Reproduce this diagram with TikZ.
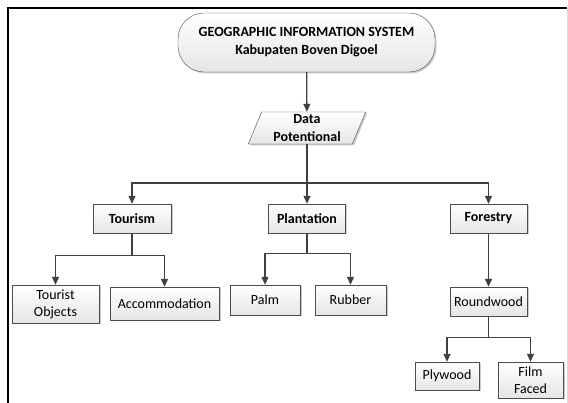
\documentclass[tikz,border=0pt]{standalone}
\usepackage{fontspec}
\setmainfont{Carlito}
\usetikzlibrary{positioning}
\usetikzlibrary{arrows.meta}
\usetikzlibrary{shapes.geometric}
\usetikzlibrary{shadows}
\tikzset{tips=proper}
\tikzset{%
    box/.style={rectangle, draw=black!70, top color=white, bottom color=black!10,
        drop shadow={shadow xshift=1.5pt, shadow yshift=-1.5pt, opacity=0.4},
        align=center, inner sep=1pt, font=\fontsize{14}{17}\selectfont},
    category/.style={box, font=\fontsize{14}{18}\selectfont\bfseries},
    arrow/.style={draw=black!75, line width=1.3pt, -{Triangle[length=8pt, width=7pt]}}
}

\begin{document}
\begin{tikzpicture}[x=1pt, y=-1pt]
            \tikzset{%
                system/.style={category, rounded corners=26pt, minimum width=257pt, minimum height=59pt},
                data/.style={category, trapezium, trapezium left angle=70, trapezium right angle=110,
                    trapezium stretches=true, minimum width=118pt, minimum height=32pt, inner sep=0pt},
            }
            \useasboundingbox (0,0) rectangle (568,403);
            % frame
            \draw[black!15, line width=0.8pt] (567,8) -- (567,403);
            \draw[line width=2.5pt] (8,403) -- (8,8) -- (567,8);

            \node[system] (gis) at (306.5,42.5) {GEOGRAPHIC INFORMATION SYSTEM\\Kabupaten Boven Digoel};
            \node[data] (potential) at (307,128) {Data\\Potentional};

            \node[category, minimum width=78pt, minimum height=29pt] (tourism) at (132,218.5) {Tourism};
            \node[category, minimum width=77pt, minimum height=29pt] (plantation) at (307,218.5) {Plantation};
            \node[category, minimum width=77pt, minimum height=29pt] (forestry) at (488.5,218.5) {Forestry};

            \node[box, minimum width=87pt, minimum height=38pt] (objects) at (55.5,304) {Tourist\\Objects};
            \node[box, minimum width=109pt, minimum height=33pt] (accommodation) at (164.5,303.5) {Accommodation};
            \node[box, minimum width=70pt, minimum height=30pt] (palm) at (265,300) {Palm};
            \node[box, minimum width=71pt, minimum height=30pt] (rubber) at (350.5,300) {Rubber};
            \node[box, minimum width=77pt, minimum height=29pt] (roundwood) at (488.5,301.5) {Roundwood};
            \node[box, minimum width=64pt, minimum height=28pt] (plywood) at (447,376) {Plywood};
            \node[box, minimum width=65pt, minimum height=36pt] (filmfaced) at (530.5,380) {Film\\Faced};

            % connectors
            \draw[arrow] (gis) -- (potential);
            \coordinate (bus) at (307,183);
            \draw[arrow] (potential) -- (bus) -| (tourism);
            \draw[arrow] (bus) -- (plantation);
            \draw[arrow] (bus) -| (forestry);

            \draw[arrow, -] (tourism) -- ++(0,37) coordinate (tbranch);
            \draw[arrow] (tbranch) -| (objects);
            \draw[arrow] (tbranch) -| (accommodation);

            \draw[arrow, -] (plantation) -- ++(0,35) coordinate (pbranch);
            \draw[arrow] (pbranch) -| (palm);
            \draw[arrow] (pbranch) -| (rubber);

            \draw[arrow] (forestry) -- (roundwood);
            \draw[arrow, -] (roundwood) -- ++(0,36) coordinate (rbranch);
            \draw[arrow] (rbranch) -| (plywood);
            \draw[arrow] (rbranch) -| (filmfaced);
\end{tikzpicture}
\end{document}
